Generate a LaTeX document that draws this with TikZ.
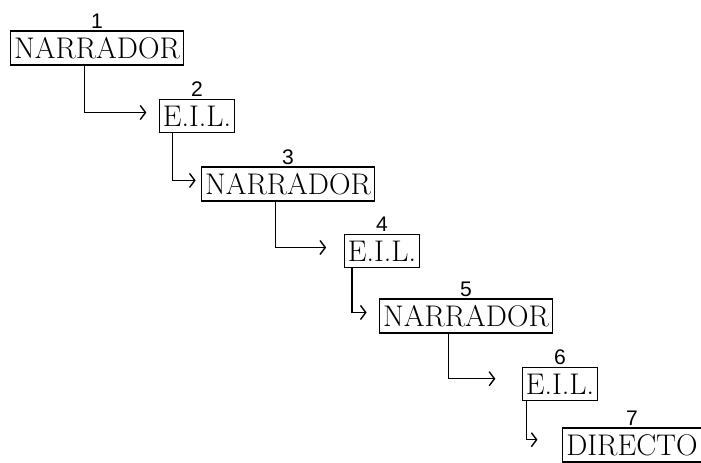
\documentclass[tikz,border=0pt]{standalone}
\usepackage{fontspec}
\newfontfamily\numfont{Liberation Sans}
\usetikzlibrary{positioning,arrows.meta}

\begin{document}
\begin{tikzpicture}[x=0.02cm,y=-0.02cm,
  caja/.style={draw,line width=0.8pt,inner xsep=2pt,inner ysep=3.5pt,
    font=\fontsize{17}{19}\selectfont},
  num/.style={label={[font=\numfont\fontsize{12}{14}\selectfont,inner sep=1pt]above:#1}},
  link/.style={line width=0.8pt,-{Straight Barb[length=3pt,width=8pt]}}]
\useasboundingbox[fill=white] (0,0) rectangle (701,463);
% boxes (stairs)
\node[caja,num=1] (n1) at (97,48)  {NARRADOR};
\node[caja,num=2] (n2) at (197,116) {E.I.L.};
\node[caja,num=3] (n3) at (288,184) {NARRADOR};
\node[caja,num=4] (n4) at (382,251) {E.I.L.};
\node[caja,num=5] (n5) at (466,316) {NARRADOR};
\node[caja,num=6] (n6) at (560,384) {E.I.L.};
\node[caja,num=7] (n7) at (632,445) {DIRECTO};
% links
\draw[link,shorten >=7pt]  ([xshift=-7pt]n1.south)  |- ([yshift=2pt]n2.west);
\draw[link,shorten >=3pt]  ([xshift=-14pt]n2.south) |- ([yshift=2pt]n3.west);
\draw[link,shorten >=10pt] ([xshift=-7pt]n3.south)  |- ([yshift=2pt]n4.west);
\draw[link,shorten >=7pt]  ([xshift=-17pt]n4.south) |- ([yshift=2pt]n5.west);
\draw[link,shorten >=15pt] ([xshift=-10pt]n5.south) |- ([yshift=3pt]n6.west);
\draw[link,shorten >=14pt] ([xshift=-19pt]n6.south) |- ([yshift=3pt]n7.west);
\end{tikzpicture}
\end{document}
